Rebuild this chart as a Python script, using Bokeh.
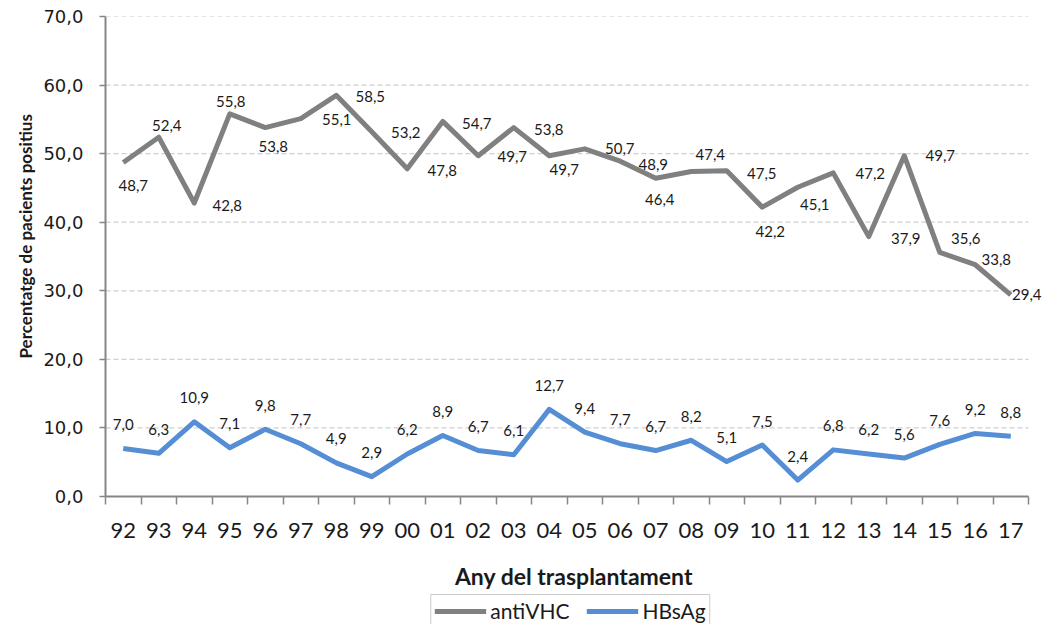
import math
from bokeh.plotting import figure
from bokeh.layouts import column, row
from bokeh.models import Range1d, FixedTicker, Legend, LegendItem, ColumnDataSource, Title, Spacer
from bokeh.embed import file_html
from bokeh.resources import INLINE
from bokeh.core.properties import value

# ---------------- data ----------------
years = ["92", "93", "94", "95", "96", "97", "98", "99", "00", "01", "02", "03", "04",
         "05", "06", "07", "08", "09", "10", "11", "12", "13", "14", "15", "16", "17"]
antivhc = [48.7, 52.4, 42.8, 55.8, 53.8, 55.1, 58.5, 53.2, 47.8, 54.7, 49.7, 53.8, 49.7,
           50.7, 48.9, 46.4, 47.4, 47.5, 42.2, 45.1, 47.2, 37.9, 49.7, 35.6, 33.8, 29.4]
hbsag = [7.0, 6.3, 10.9, 7.1, 9.8, 7.7, 4.9, 2.9, 6.2, 8.9, 6.7, 6.1, 12.7,
         9.4, 7.7, 6.7, 8.2, 5.1, 7.5, 2.4, 6.8, 6.2, 5.6, 7.6, 9.2, 8.8]
yticks = [0, 10, 20, 30, 40, 50, 60, 70]
ytick_labels = ["0,0", "10,0", "20,0", "30,0", "40,0", "50,0", "60,0", "70,0"]
series_names = ["antiVHC", "HBsAg"]
x_title = "Any del trasplantament"
y_title = "Percentatge de pacients positius"

# label placement (screen px offsets) for antiVHC data labels, as in the original
vhc_dx = [10, 8, 33, 1, 8, 36, 34, 34, 35, 34, 34, 35, 15, 35, 33, 4, 19, 35, 8, 17, 37, 37, 36, 26, 21, 16]
vhc_dy = [23, -12, 2, -12, 19, 1, 1, 1, 2, 2, 1, 2, 14, 0, 3, 21, -17, 3, 24, 17, 1, 2, 0, -14, -5, 0]

GRAY = "#808080"
BLUE = "#558ED5"
AXIS = "#868686"
FONT = "Lato"
TXT = "#1a1a1a"

PLOT_W = 923     # width of the category area
FRAME_W = 937    # frame extends a bit to the right so end labels are not clipped

def fmt(v):
    return f"{v:.1f}".replace(".", ",")

n = len(years)
xc = [i + 0.5 for i in range(n)]

src = ColumnDataSource(dict(
    x=xc, vhc=antivhc, hbs=hbsag,
    vhc_lab=[fmt(v) for v in antivhc], hbs_lab=[fmt(v) for v in hbsag],
    dx=vhc_dx, dy=vhc_dy,
))

p = figure(frame_width=FRAME_W, frame_height=480,
           output_backend="svg", toolbar_location=None,
           x_range=Range1d(0, n * FRAME_W / PLOT_W), y_range=Range1d(yticks[0], yticks[-1]),
           min_border_left=105, min_border_right=0, min_border_top=16, min_border_bottom=0)
p.outline_line_color = None
p.background_fill_color = "white"
p.border_fill_color = "white"

# gridlines (only over the category area)
p.xgrid.visible = False
p.ygrid.visible = False
gy = yticks[1:]
p.segment(x0=[0] * len(gy), x1=[n] * len(gy), y0=gy, y1=gy,
          line_color="#d0d0d0", line_dash="5 3", line_width=1.2)

# y axis
yax = p.yaxis[0]
yax.ticker = FixedTicker(ticks=yticks)
yax.major_label_overrides = {t: l for t, l in zip(yticks, ytick_labels)}
yax.axis_line_color = AXIS
yax.axis_line_width = 2
yax.major_tick_line_color = AXIS
yax.major_tick_line_width = 1.5
yax.major_tick_out = 6
yax.major_tick_in = 0
yax.minor_tick_line_color = None
yax.major_label_text_font = "DejaVu Sans"
yax.major_label_text_font_size = "18px"
yax.major_label_text_color = TXT
yax.major_label_standoff = 16

# x axis: labels at category centres, tick marks between categories
xax = p.xaxis[0]
xax.bounds = (0, n)
xax.ticker = FixedTicker(ticks=xc, minor_ticks=list(range(n + 1)))
xax.major_label_overrides = {x: y for x, y in zip(xc, years)}
xax.axis_line_color = AXIS
xax.axis_line_width = 2
xax.major_tick_line_color = None
xax.major_tick_out = 0
xax.major_tick_in = 0
xax.minor_tick_line_color = AXIS
xax.minor_tick_line_width = 1.5
xax.minor_tick_out = 8
xax.minor_tick_in = 0
xax.major_label_text_font = FONT
xax.major_label_text_font_size = "22px"
xax.major_label_text_color = TXT
xax.major_label_standoff = 18
xax.axis_label = x_title
xax.axis_label_text_font = FONT
xax.axis_label_text_font_style = "bold"
xax.axis_label_text_font_size = "23px"
xax.axis_label_text_color = TXT
xax.axis_label_standoff = 21

# lines
p.line("x", "vhc", source=src, line_color=GRAY, line_width=5, line_join="round")
p.line("x", "hbs", source=src, line_color=BLUE, line_width=5, line_join="round")

# data labels
p.text("x", "vhc", text="vhc_lab", source=src, x_offset="dx", y_offset="dy",
       text_align="center", text_baseline="middle", text_font=value(FONT),
       text_font_size="15px", text_color=TXT)
p.text("x", "hbs", text="hbs_lab", source=src, y_offset=-24,
       text_align="center", text_baseline="middle", text_font=value(FONT),
       text_font_size="15px", text_color=TXT)

# y axis title (placed like the original: a little above the frame centre)
p.add_layout(Title(text=y_title, align="left", offset=138,
                   text_font=FONT, text_font_style="bold", text_font_size="17px",
                   text_color=TXT), "left")

# ---------------- legend strip under the chart ----------------
pl = figure(width=300, height=32, output_backend="svg", toolbar_location=None,
            x_range=Range1d(10, 11), y_range=Range1d(10, 11),
            x_axis_location=None, y_axis_location=None,
            min_border=0, min_border_left=0, min_border_right=0,
            min_border_top=0, min_border_bottom=0)
pl.outline_line_color = None
pl.xgrid.visible = False
pl.ygrid.visible = False
pl.border_fill_color = "white"
pl.background_fill_color = "white"
# legend proxies (one point each, outside the strip's visible range)
lr1 = pl.line(x=[0, 1], y=[0, 0], line_color=GRAY, line_width=5)
lr2 = pl.line(x=[0, 1], y=[0, 0], line_color=BLUE, line_width=5)
legend = Legend(items=[LegendItem(label=series_names[0], renderers=[lr1]),
                       LegendItem(label=series_names[1], renderers=[lr2])],
                location="top_center", orientation="horizontal",
                label_text_font=FONT, label_text_font_size="21px", label_text_color=TXT,
                glyph_width=52, glyph_height=20, label_height=20, label_standoff=4,
                spacing=17, padding=3, margin=2,
                border_line_color="#9a9a9a", border_line_width=1.5,
                background_fill_color="white", background_fill_alpha=1)
pl.add_layout(legend, "center")

layout = column(p, row(Spacer(width=420, height=32), pl), spacing=0)

open("out.html", "w").write(file_html(layout, INLINE))
